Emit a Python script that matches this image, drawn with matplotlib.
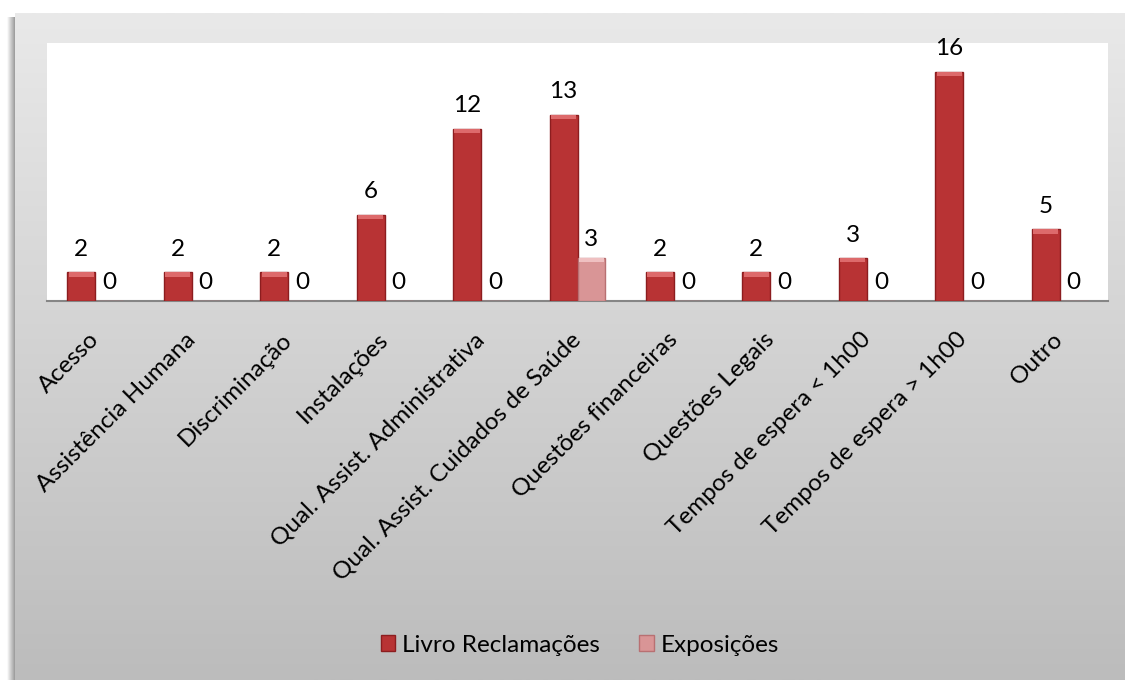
import numpy as np
import matplotlib.pyplot as plt
from matplotlib.colors import LinearSegmentedColormap
from matplotlib.transforms import ScaledTranslation

plt.rcParams['font.family'] = ['Lato', 'DejaVu Sans']

categories = ["Acesso", "Assistência Humana", "Discriminação", "Instalações",
              "Qual. Assist. Administrativa", "Qual. Assist. Cuidados de Saúde",
              "Questões financeiras", "Questões Legais", "Tempos de espera < 1h00",
              "Tempos de espera > 1h00", "Outro"]
livro = [2, 2, 2, 6, 12, 13, 2, 2, 3, 16, 5]
exposicoes = [0, 0, 0, 0, 0, 3, 0, 0, 0, 0, 0]

FS = 17.5
W, H = 1125, 680
fig = plt.figure(figsize=(W / 100, H / 100), dpi=100)
fig.patch.set_facecolor("white")

# fundo com degradê (moldura do gráfico)
bg = fig.add_axes([15 / W, 0, 1 - 15 / W, 1 - 13 / H], zorder=0)
grad = np.linspace(0, 1, 256).reshape(-1, 1)
cmap_bg = LinearSegmentedColormap.from_list("bg", ["#e9e9e9", "#bcbcbc"])
bg.imshow(grad, aspect="auto", cmap=cmap_bg, extent=[0, 1, 0, 1], origin="upper")
bg.set_axis_off()

# sombra à esquerda
sh = fig.add_axes([7 / W, 0, 8 / W, 1 - 17 / H], zorder=0)
cmap_sh = LinearSegmentedColormap.from_list("sh", ["#ffffff", "#9a9a9a"])
sh.imshow(np.linspace(0, 1, 64).reshape(1, -1), aspect="auto", cmap=cmap_sh, extent=[0, 1, 0, 1])
sh.set_axis_off()

ax = fig.add_axes([47 / W, 1 - 301 / H, (1108 - 47) / W, (301 - 43) / H], zorder=1)
ax.set_facecolor("white")

x = np.arange(len(categories))
bw = 0.29
b1 = ax.bar(x - bw / 2, livro, bw, color="#b83334", edgecolor="#8c1d1f", linewidth=1,
            label="Livro Reclamações", zorder=3)
b2 = ax.bar(x + bw / 2, exposicoes, bw, color="#d99596", edgecolor="#b87072", linewidth=1,
            label="Exposições", zorder=3)

# brilho no topo das barras (efeito bisel)
hl = 0.3
l_vals = np.array(livro, dtype=float)
e_vals = np.array(exposicoes, dtype=float)
ax.bar(x - bw / 2, np.where(l_vals > 0, hl, 0), bw * 0.9, bottom=l_vals - hl,
       color="#dd6a6b", linewidth=0, zorder=4)
ax.bar(x + bw / 2, np.where(e_vals > 0, hl, 0), bw * 0.9, bottom=e_vals - hl,
       color="#efc0c1", linewidth=0, zorder=4)

for rect, v in zip(b1, livro):
    ax.annotate(str(v), (rect.get_x() + rect.get_width() / 2, v), xytext=(0, 9),
                textcoords="offset points", ha="center", va="bottom", fontsize=FS)
for rect, v in zip(b2, exposicoes):
    ax.annotate(str(v), (rect.get_x() + rect.get_width() / 2, v), xytext=(0, 6),
                textcoords="offset points", ha="center", va="bottom", fontsize=FS)

ax.set_xlim(-0.5, len(categories) - 0.5)
ax.set_ylim(0, 18)
ax.set_yticks([])
for s in ["top", "right", "left"]:
    ax.spines[s].set_visible(False)
ax.spines["bottom"].set_color("#868686")
ax.spines["bottom"].set_linewidth(1.5)
ax.set_xticks(x)
ax.set_xticklabels(categories, rotation=45, ha="right", rotation_mode="anchor", fontsize=FS)
ax.tick_params(axis="x", length=0, pad=20)
shift = ScaledTranslation(-7 / 100, 0, fig.dpi_scale_trans)
for lab in ax.get_xticklabels():
    lab.set_transform(lab.get_transform() + shift)

fig.legend(handles=[b1, b2], loc="center", bbox_to_anchor=(580 / W, 1 - 645 / H), ncol=2,
           frameon=False, fontsize=FS, handlelength=0.6, handleheight=0.6,
           handletextpad=0.3, columnspacing=1.6)

fig.savefig("out.png", dpi=100)
